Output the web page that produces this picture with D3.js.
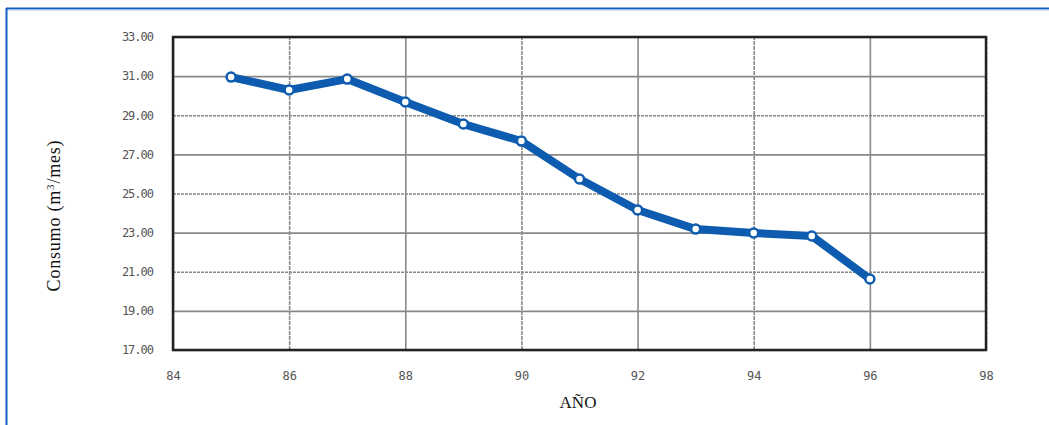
<!DOCTYPE html>
<html lang="es">
<head>
  <meta charset="UTF-8">
  <title>Consumo por año</title>
  <script src="https://d3js.org/d3.v7.min.js"></script>
  <style>
    * { margin: 0; padding: 0; box-sizing: border-box; }
    body { background: #fff; width: 1049px; height: 425px; overflow: hidden; }
  </style>
</head>
<body>
  <div id="chart"></div>
  <script>
    // datos
    const years = [85, 86, 87, 88, 89, 90, 91, 92, 93, 94, 95, 96];
    const consumo = [30.95, 30.29, 30.85, 29.68, 28.55, 27.68, 25.74, 24.16, 23.18, 22.98, 22.83, 20.63];
    const xTicks = [84, 86, 88, 90, 92, 94, 96, 98];
    const yTicks = [17, 19, 21, 23, 25, 27, 29, 31, 33];

    const width = 1049, height = 425;
    const plotLeft = 173, plotRight = 986, plotTop = 37, plotBottom = 350;

    const svg = d3.select("#chart").append("svg")
      .attr("width", width)
      .attr("height", height);

    // marco azul (arriba e izquierda)
    svg.append("line").attr("x1", 6).attr("x2", width).attr("y1", 8.5).attr("y2", 8.5)
      .attr("stroke", "#1060c4").attr("stroke-width", 2);
    svg.append("line").attr("x1", 6).attr("x2", width).attr("y1", 10).attr("y2", 10)
      .attr("stroke", "#a8c4ea").attr("stroke-width", 1);
    svg.append("line").attr("x1", 6.5).attr("x2", 6.5).attr("y1", 8).attr("y2", height)
      .attr("stroke", "#1060c4").attr("stroke-width", 2);

    const x = d3.scaleLinear().domain([84, 98]).range([plotLeft, plotRight]);
    const y = d3.scaleLinear().domain([17, 33]).range([plotBottom, plotTop]);

    const tickFont = "'DejaVu Sans Mono', monospace";

    // rejilla horizontal
    svg.append("g")
      .attr("transform", `translate(${plotLeft},0)`)
      .call(d3.axisLeft(y).tickValues(yTicks).tickSize(-(plotRight - plotLeft)).tickFormat(""))
      .call(g => g.select(".domain").remove())
      .call(g => g.selectAll(".tick line")
        .attr("stroke", "#888")
        .attr("stroke-width", 1.6)
        .attr("stroke-dasharray", (d, i) => i % 2 === 0 ? "3,1" : null));

    // rejilla vertical
    svg.append("g")
      .attr("transform", `translate(0,${plotBottom})`)
      .call(d3.axisBottom(x).tickValues(xTicks).tickSize(-(plotBottom - plotTop)).tickFormat(""))
      .call(g => g.select(".domain").remove())
      .call(g => g.selectAll(".tick line")
        .attr("stroke", "#888")
        .attr("stroke-width", 1.6)
        .attr("stroke-dasharray", (d, i) => i % 2 === 1 ? "4,1" : null));

    // etiquetas eje y
    svg.append("g")
      .attr("transform", `translate(${plotLeft - 17},0)`)
      .call(d3.axisLeft(y).tickValues(yTicks).tickSize(0).tickFormat(d3.format(".2f")))
      .call(g => g.select(".domain").remove())
      .call(g => g.selectAll("text")
        .attr("font-family", tickFont)
        .attr("font-size", 12)
        .attr("fill", "#555")
        .attr("letter-spacing", -1));

    // etiquetas eje x
    svg.append("g")
      .attr("transform", `translate(0,${plotBottom + 18})`)
      .call(d3.axisBottom(x).tickValues(xTicks).tickSize(0).tickFormat(d3.format("d")))
      .call(g => g.select(".domain").remove())
      .call(g => g.selectAll("text")
        .attr("font-family", tickFont)
        .attr("font-size", 12)
        .attr("fill", "#555"));

    // borde del área de trazado
    svg.append("rect")
      .attr("x", plotLeft).attr("y", plotTop)
      .attr("width", plotRight - plotLeft).attr("height", plotBottom - plotTop)
      .attr("fill", "none")
      .attr("stroke", "#222")
      .attr("stroke-width", 2.5);

    const data = years.map((yr, i) => ({ yr, v: consumo[i] }));

    svg.append("path")
      .datum(data)
      .attr("fill", "none")
      .attr("stroke", "#0e5cb0")
      .attr("stroke-width", 8)
      .attr("stroke-linejoin", "round")
      .attr("d", d3.line().x(d => x(d.yr)).y(d => y(d.v)));

    svg.append("g")
      .selectAll("circle")
      .data(data)
      .join("circle")
      .attr("cx", d => x(d.yr))
      .attr("cy", d => y(d.v))
      .attr("r", 4.5)
      .attr("fill", "#fff")
      .attr("stroke", "#0e5cb0")
      .attr("stroke-width", 2.5);

    // títulos de ejes
    svg.append("text")
      .attr("transform", `translate(60,${(plotTop + plotBottom) / 2 + 22}) rotate(-90)`)
      .attr("text-anchor", "middle")
      .attr("font-family", "'Liberation Serif', serif")
      .attr("font-size", 18)
      .attr("letter-spacing", 0.8)
      .attr("fill", "#111")
      .html("Consumo (m<tspan dy='-6' font-size='11'>3</tspan><tspan dy='6'>/mes)</tspan>");

    svg.append("text")
      .attr("x", 578)
      .attr("y", 408)
      .attr("text-anchor", "middle")
      .attr("font-family", "'Liberation Serif', serif")
      .attr("font-size", 17)
      .attr("fill", "#111")
      .text("AÑO");
  </script>
</body>
</html>
